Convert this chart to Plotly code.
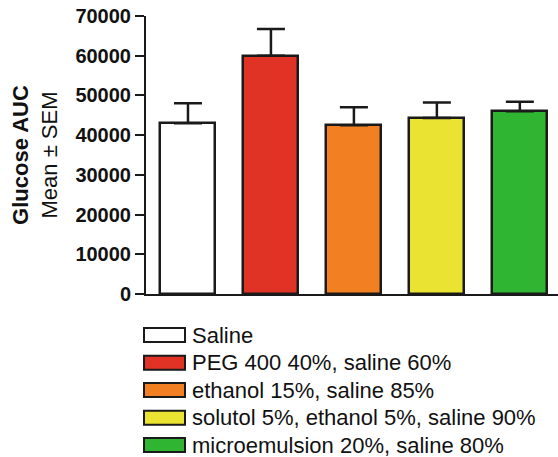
import plotly.graph_objects as go

# Glucose AUC per vehicle group (mean and SEM)
groups = [
    "Saline",
    "PEG 400 40%, saline 60%",
    "ethanol 15%, saline 85%",
    "solutol 5%, ethanol 5%, saline 90%",
    "microemulsion 20%, saline 80%",
]
auc_mean = [43000, 60000, 42500, 44300, 46000]
auc_sem = [5000, 6700, 4500, 3900, 2400]
colors = ["#FFFFFF", "#E03326", "#F28022", "#EBE332", "#2FB531"]

y_ticks = [0, 10000, 20000, 30000, 40000, 50000, 60000, 70000]

FONT = "Liberation Sans, Arial, sans-serif"
INK = "#1a1a1a"

fig = go.Figure()
fig.add_trace(go.Bar(
    x=list(range(len(groups))),
    y=auc_mean,
    width=0.663,
    marker=dict(color=colors, line=dict(color=INK, width=2.5)),
    error_y=dict(type="data", array=auc_sem, arrayminus=[0] * len(groups),
                 symmetric=False, color=INK, thickness=2.5, width=14),
    showlegend=False,
))

W, H = 558, 457
L, R, T, B = 146, 0, 16, 163
pw, ph = W - L - R, H - T - B

# legend drawn as swatches + labels below the axes
row_y = [335, 362.7, 390, 417.7, 445]
for name, col, yc in zip(groups, colors, row_y):
    fig.add_shape(type="rect", xref="paper", yref="paper",
                  x0=(144 - L) / pw, x1=(185 - L) / pw,
                  y0=(H - B - (yc + 7)) / ph, y1=(H - B - (yc - 7)) / ph,
                  fillcolor=col, line=dict(color=INK, width=2))
    fig.add_annotation(xref="paper", yref="paper",
                       x=(190 - L) / pw, y=(H - B - yc) / ph,
                       text=name, showarrow=False, xanchor="left", yanchor="middle",
                       font=dict(family=FONT, size=22, color="#111"))

fig.update_layout(
    width=W, height=H,
    margin=dict(l=L, r=R, t=T, b=B, pad=0),
    plot_bgcolor="white", paper_bgcolor="white",
    font=dict(family=FONT, color="#111"),
    bargap=0,
    xaxis=dict(range=[-0.506, 4.46], showticklabels=False, ticks="",
               showgrid=False, zeroline=False, showline=True,
               linecolor=INK, linewidth=2),
    yaxis=dict(range=[0, 70000], tickvals=y_ticks,
               ticktext=[f"<b>{v}</b>" for v in y_ticks],
               tickfont=dict(family=FONT, size=20, color="#111"),
               ticks="outside", ticklen=9, tickwidth=2, tickcolor=INK,
               showgrid=False, zeroline=False, showline=True,
               linecolor=INK, linewidth=2,
               title=dict(text="<b>Glucose AUC</b><br>Mean ± SEM",
                          font=dict(family=FONT, size=22, color="#111"),
                          standoff=12)),
)

fig.write_html("out.html")
